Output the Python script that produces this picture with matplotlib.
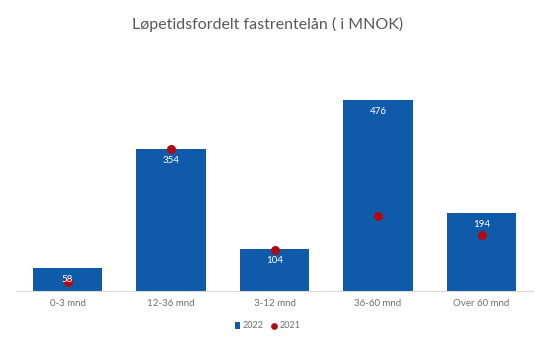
import matplotlib
matplotlib.use("Agg")
import matplotlib.pyplot as plt

categories = ["0-3 mnd", "12-36 mnd", "3-12 mnd", "36-60 mnd", "Over 60 mnd"]
values_2022 = [58, 354, 104, 476, 194]
values_2021 = [22, 355, 102, 187, 140]

plt.rcParams["font.family"] = ["Lato", "DejaVu Sans"]

fig = plt.figure(figsize=(5.35, 3.38), dpi=100)
ax = fig.add_axes([15.75 / 535, 47 / 338, 517.5 / 535, 200.5 / 338])

x = list(range(len(categories)))
bar_color = "#0F5BA9"
dot_color = "#B00A12"

bars = ax.bar(x, values_2022, width=0.67, color=bar_color, label="2022", zorder=2)
dots = ax.scatter(x, values_2021, s=30, color=dot_color, label="2021", zorder=3)

for xi, v in zip(x, values_2022):
    ax.annotate(str(v), (xi, v), xytext=(0, -5), textcoords="offset points",
                ha="center", va="top", color="white", fontsize=7, zorder=4)

ax.set_xlim(-0.5, 4.5)
ax.set_ylim(0, 500)
ax.set_yticks([])
ax.set_xticks(x)
ax.set_xticklabels(categories, fontsize=7, color="#707070")
ax.tick_params(axis="x", length=0, pad=6)
for side in ["left", "right", "top"]:
    ax.spines[side].set_visible(False)
ax.spines["bottom"].set_color("#D9D9D9")
ax.spines["bottom"].set_linewidth(0.8)

fig.text(0.5, 1 - 24 / 338, "Løpetidsfordelt fastrentelån ( i MNOK)",
         ha="center", va="center", fontsize=11.5, color="#595959")

leg = fig.legend([bars, dots], ["2022", "2021"], loc="center",
                 bbox_to_anchor=(0.5, 1 - 326 / 338), ncol=2,
                 frameon=False, fontsize=6.5, handlelength=0.6, handletextpad=0.3,
                 columnspacing=0.8, markerscale=0.7)
for t in leg.get_texts():
    t.set_color("#707070")

fig.savefig("out.png", dpi=100, facecolor="white")
